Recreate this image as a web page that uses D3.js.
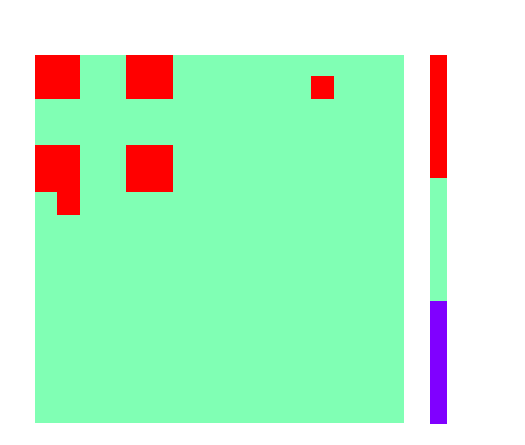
<!DOCTYPE html>
<html>
<head>
<meta charset="utf-8">
<script src="https://cdn.jsdelivr.net/npm/d3@7"></script>
<style>
  html, body { margin: 0; padding: 0; background: #fff; }
  svg { display: block; }
</style>
</head>
<body>
<svg id="chart" width="525" height="445"></svg>
<script>
// Grid rows / columns (indices)
const rows = d3.range(16);
const cols = d3.range(16);
// Cell values: 1 = high (red), 0 = middle (green)
const values = [
  [1,1,0,0,1,1,0,0,0,0,0,0,0,0,0,0],
  [1,1,0,0,1,1,0,0,0,0,0,0,1,0,0,0],
  [0,0,0,0,0,0,0,0,0,0,0,0,0,0,0,0],
  [0,0,0,0,0,0,0,0,0,0,0,0,0,0,0,0],
  [1,1,0,0,1,1,0,0,0,0,0,0,0,0,0,0],
  [1,1,0,0,1,1,0,0,0,0,0,0,0,0,0,0],
  [0,1,0,0,0,0,0,0,0,0,0,0,0,0,0,0],
  [0,0,0,0,0,0,0,0,0,0,0,0,0,0,0,0],
  [0,0,0,0,0,0,0,0,0,0,0,0,0,0,0,0],
  [0,0,0,0,0,0,0,0,0,0,0,0,0,0,0,0],
  [0,0,0,0,0,0,0,0,0,0,0,0,0,0,0,0],
  [0,0,0,0,0,0,0,0,0,0,0,0,0,0,0,0],
  [0,0,0,0,0,0,0,0,0,0,0,0,0,0,0,0],
  [0,0,0,0,0,0,0,0,0,0,0,0,0,0,0,0],
  [0,0,0,0,0,0,0,0,0,0,0,0,0,0,0,0],
  [0,0,0,0,0,0,0,0,0,0,0,0,0,0,0,0]
];
// Colorbar levels (bottom to top) and their colours
const levels = [-1, 0, 1];
const levelColors = ["#8000ff", "#80ffb4", "#ff0000"];

const svg = d3.select("#chart");
const plot = { x0: 35, y0: 55, x1: 404, y1: 423 };

const color = d3.scaleOrdinal().domain(levels).range(levelColors);
const x = d3.scaleBand().domain(cols).range([34, 403.8]);
const y = d3.scaleBand().domain(rows).range([52.8, 422.7]);

svg.append("clipPath").attr("id", "clip")
  .append("rect")
  .attr("x", plot.x0).attr("y", plot.y0)
  .attr("width", plot.x1 - plot.x0).attr("height", plot.y1 - plot.y0);

const cells = [];
rows.forEach(r => cols.forEach(c => cells.push({ r, c, v: values[r][c] })));

svg.append("g").attr("clip-path", "url(#clip)")
  .selectAll("rect").data(cells).join("rect")
  .attr("x", d => x(d.c))
  .attr("y", d => y(d.r))
  .attr("width", x.bandwidth() + 0.5)
  .attr("height", y.bandwidth() + 0.5)
  .attr("fill", d => color(d.v))
  .attr("shape-rendering", "crispEdges");

// Colorbar
const cb = d3.scaleBand().domain(levels.slice().reverse()).range([55, 424]);
svg.append("g").selectAll("rect").data(levels).join("rect")
  .attr("x", 430).attr("width", 17)
  .attr("y", d => cb(d))
  .attr("height", cb.bandwidth() + 0.3)
  .attr("fill", d => color(d))
  .attr("shape-rendering", "crispEdges");
</script>
</body>
</html>
